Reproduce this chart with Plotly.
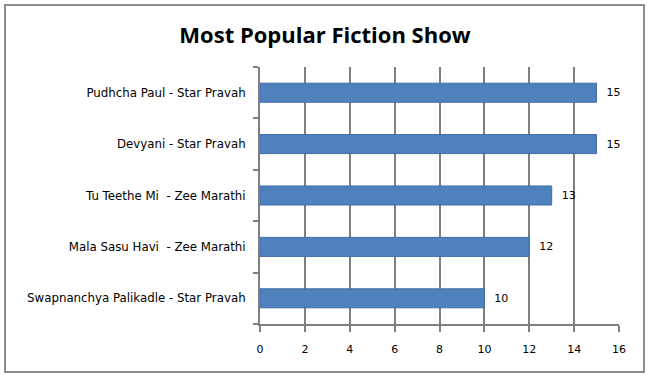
import plotly.graph_objects as go

shows = ["Swapnanchya Palikadle - Star Pravah", "Mala Sasu Havi  - Zee Marathi",
         "Tu Teethe Mi  - Zee Marathi", "Devyani - Star Pravah", "Pudhcha Paul - Star Pravah"]
votes = [10, 12, 13, 15, 15]
x_ticks = [0, 2, 4, 6, 8, 10, 12, 14, 16]

L, R, T, B = 260, 31, 67, 54
W, H = 650, 378
pw, ph = W - L - R, H - T - B

fig = go.Figure(go.Bar(
    x=votes, y=shows, orientation="h",
    marker=dict(color="#4F81BD", line=dict(color="#3F6DA8", width=1)),
    text=[f"  {v}" for v in votes], textposition="outside",
    textfont=dict(family="DejaVu Sans", size=11, color="#000000"),
    cliponaxis=False,
))

def px2paper_x(p):
    return (p - L) / pw

def px2paper_y(p):
    return (H - B - p) / ph

fig.update_layout(
    width=W, height=H,
    margin=dict(l=L, r=R, t=T, b=B),
    paper_bgcolor="white", plot_bgcolor="white",
    bargap=0.63,
    showlegend=False,
    title=dict(text="<b>Most Popular Fiction Show</b>", x=0.5, xanchor="center",
               y=1 - 35 / H, yanchor="middle",
               font=dict(family="Open Sans", size=22, color="#000000")),
    xaxis=dict(range=[0, 16], tickvals=x_ticks, ticktext=[str(t) for t in x_ticks],
               showgrid=True, gridcolor="#7F7F7F", gridwidth=2,
               showline=True, linecolor="#7F7F7F", linewidth=2,
               ticks="outside", ticklen=6, tickwidth=2, tickcolor="#7F7F7F",
               ticklabelstandoff=8,
               tickfont=dict(family="DejaVu Sans", size=11, color="#000000"),
               zeroline=False, fixedrange=True),
    yaxis=dict(showgrid=False, showline=True, linecolor="#7F7F7F", linewidth=2,
               ticks="outside", tickson="boundaries", ticklen=5, tickwidth=2,
               tickcolor="#7F7F7F", ticklabelstandoff=10,
               tickfont=dict(family="DejaVu Sans", size=11.8, color="#000000"),
               fixedrange=True),
    shapes=[dict(type="rect", xref="paper", yref="paper",
                 x0=px2paper_x(5), x1=px2paper_x(644),
                 y0=px2paper_y(372), y1=px2paper_y(5),
                 line=dict(color="#8C8C8C", width=2), fillcolor="rgba(0,0,0,0)",
                 layer="below")],
)

fig.write_html("out.html", config={"displayModeBar": False},
               post_script="document.body.style.margin='0';document.body.style.overflow='hidden';")
